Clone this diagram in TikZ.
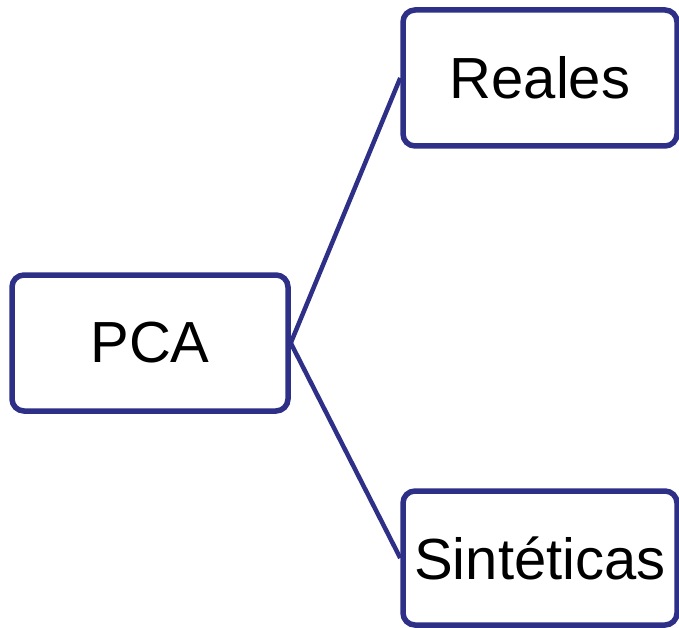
\documentclass[tikz,border=0pt]{standalone}
\usepackage{fontspec}
\setmainfont{Liberation Sans}
\definecolor{frame}{HTML}{2E3087}
\begin{document}
\begin{tikzpicture}[x=1pt,y=-1pt,
  box/.style={draw=frame, line width=5.5pt, rounded corners=12pt, fill=white,
    minimum width=#1, inner sep=0pt, font=\fontsize{58}{60}\selectfont},
  link/.style={draw=frame, line width=4.5pt}]
  \useasboundingbox (0,0) rectangle (679,628);
  \node[box=276pt, minimum height=136pt] (pca)  at (150,343) {PCA};
  \node[box=274pt, minimum height=136pt] (real) at (540,78)  {Reales};
  \node[box=274pt, minimum height=134pt] (sint) at (540,558) {Sintéticas};
  \draw[link] (pca.east) -- (real.west);
  \draw[link] (pca.east) -- (sint.west);
\end{tikzpicture}
\end{document}
